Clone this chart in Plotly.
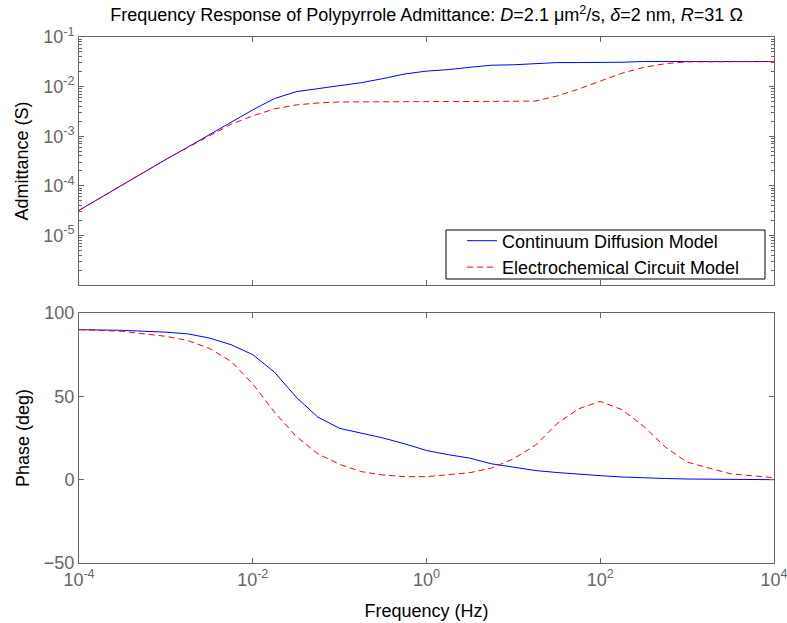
import plotly.graph_objects as go
from plotly.subplots import make_subplots

# Frequency samples (Hz)
freq = [1e-4, 3.16e-4, 1e-3, 1.78e-3, 3.16e-3, 5.62e-3, 1e-2, 1.78e-2, 3.16e-2, 5.62e-2,
        0.1, 0.178, 0.316, 0.562, 1, 1.78, 3.16, 5.62, 10, 17.8, 31.6, 56.2, 100, 178,
        316, 562, 1000, 3162, 10000]

# Admittance magnitude (S)
adm_diffusion = [3.2e-5, 1.05e-4, 3.4e-4, 6.0e-4, 1.07e-3, 1.9e-3, 3.4e-3, 5.75e-3, 7.9e-3, 9.1e-3,
                 1.06e-2, 1.2e-2, 1.45e-2, 1.8e-2, 2.05e-2, 2.2e-2, 2.45e-2, 2.7e-2, 2.75e-2, 2.9e-2,
                 3.05e-2, 3.05e-2, 3.05e-2, 3.1e-2, 3.2e-2, 3.2e-2, 3.2e-2, 3.2e-2, 3.2e-2]
adm_circuit = [3.2e-5, 1.05e-4, 3.4e-4, 5.9e-4, 1.02e-3, 1.74e-3, 2.57e-3, 3.55e-3, 4.27e-3, 4.68e-3,
               4.9e-3, 4.95e-3, 5.0e-3, 5.0e-3, 5.0e-3, 5.0e-3, 5.0e-3, 5.0e-3, 5.0e-3, 5.1e-3,
               6.45e-3, 8.9e-3, 1.29e-2, 1.86e-2, 2.45e-2, 2.9e-2, 3.15e-2, 3.2e-2, 3.2e-2]

# Phase (deg)
phase_diffusion = [90, 89.6, 88.5, 87.5, 85, 81, 75, 64.5, 49.5, 37.5,
                   30.8, 28, 25, 21.5, 17.5, 15, 12.9, 9.5, 7.5, 5.5,
                   4.3, 3.2, 2.4, 1.6, 1.0, 0.7, 0.4, 0.2, 0]
phase_circuit = [90, 89, 86, 83.5, 78.8, 71, 57.5, 40.5, 26, 15.5,
                 9.2, 4.8, 2.8, 1.8, 1.8, 2.8, 4.2, 7, 12.5, 20.5,
                 33.5, 42.5, 47, 42, 32, 19.5, 10.5, 3.5, 1.2]

names = ["Continuum Diffusion Model", "Electrochemical Circuit Model"]

x_tickvals = [1e-4, 1e-2, 1, 1e2, 1e4]
x_ticktext = ["10<sup>-4</sup>", "10<sup>-2</sup>", "10<sup>0</sup>", "10<sup>2</sup>", "10<sup>4</sup>"]
y_tickvals = [1e-5, 1e-4, 1e-3, 1e-2, 1e-1]
y_ticktext = ["10<sup>-5</sup>", "10<sup>-4</sup>", "10<sup>-3</sup>", "10<sup>-2</sup>", "10<sup>-1</sup>"]
phase_ticks = [-50, 0, 50, 100]

BLUE = "#0000ff"
RED = "#ff0000"
AX = "#666666"
FONT = "Liberation Sans, Arial, sans-serif"
FS = 18
W, H = 787, 623

common_axis = dict(showline=True, linecolor=AX, linewidth=1, mirror="ticks",
                   ticks="inside", tickcolor=AX, ticklen=5, showgrid=False, zeroline=False,
                   ticklabeloverflow="allow",
                   tickfont=dict(family=FONT, size=FS, color=AX))

fig = make_subplots(rows=2, cols=1)

fig.add_trace(go.Scatter(x=freq, y=adm_diffusion, mode="lines", name=names[0],
                         line=dict(color=BLUE, width=1)), row=1, col=1)
fig.add_trace(go.Scatter(x=freq, y=adm_circuit, mode="lines", name=names[1],
                         line=dict(color=RED, width=1, dash="6px,4px")), row=1, col=1)
fig.add_trace(go.Scatter(x=freq, y=phase_diffusion, mode="lines", showlegend=False,
                         line=dict(color=BLUE, width=1)), row=2, col=1)
fig.add_trace(go.Scatter(x=freq, y=phase_circuit, mode="lines", showlegend=False,
                         line=dict(color=RED, width=1, dash="6px,4px")), row=2, col=1)

x_dom = [79 / W, 774 / W]
fig.update_layout(
    xaxis=dict(type="log", range=[-4, 4], domain=x_dom, tickvals=x_tickvals, automargin=False,
               ticktext=x_ticktext, showticklabels=False, anchor="y", **common_axis),
    yaxis=dict(type="log", range=[-6, -1], domain=[1 - 285 / H, 1 - 37 / H],
               tickvals=y_tickvals, ticktext=y_ticktext, anchor="x", automargin=True,
               minor=dict(ticks="inside", ticklen=3, tickcolor=AX, dtick="D1", showgrid=False),
               title=dict(text="Admittance (S)", font=dict(family=FONT, size=FS, color="#000000"),
                          standoff=9),
               **common_axis),
    xaxis2=dict(type="log", range=[-4, 4], domain=x_dom, tickvals=x_tickvals, automargin=False,
                ticktext=x_ticktext, anchor="y2",
                title=dict(text="Frequency (Hz)", font=dict(family=FONT, size=FS, color="#000000")),
                **common_axis),
    yaxis2=dict(range=[-50, 100], domain=[1 - 563 / H, 1 - 313 / H],
                tickvals=phase_ticks, anchor="x2", automargin=True,
                title=dict(text="Phase (deg)", font=dict(family=FONT, size=FS, color="#000000"),
                           standoff=9),
                **common_axis),
)

fig.add_shape(type="rect", xref="paper", yref="paper",
              x0=446 / W, x1=765 / W, y0=1 - 279 / H, y1=1 - 230 / H,
              line=dict(color="#000000", width=1), fillcolor="white", layer="below")

fig.update_layout(
    width=W, height=H,
    margin=dict(l=0, r=0, t=0, b=0, autoexpand=False),
    paper_bgcolor="white", plot_bgcolor="white",
    font=dict(family=FONT, size=FS, color="#000000"),
    title=dict(text="Frequency Response of Polypyrrole Admittance: <i>D</i>=2.1 \u03bcm<sup>2</sup>/s, "
                    "<i>\u03b4</i>=2 nm, <i>R</i>=31 \u03a9",
               x=(79 + 774) / 2 / W, xanchor="center", y=1 - 15 / H, yanchor="middle",
               font=dict(family=FONT, size=FS, color="#000000")),
    legend=dict(x=462 / W, xanchor="left", y=1 - 254 / H, yanchor="middle",
                borderwidth=0, bgcolor="rgba(0,0,0,0)",
                font=dict(family=FONT, size=FS, color="#000000"),
                tracegroupgap=0, itemwidth=30),
    showlegend=True,
)

fig.write_html("out.html", config={"displayModeBar": False},
               post_script="document.body.style.margin='0px';document.body.style.overflow='hidden';")
